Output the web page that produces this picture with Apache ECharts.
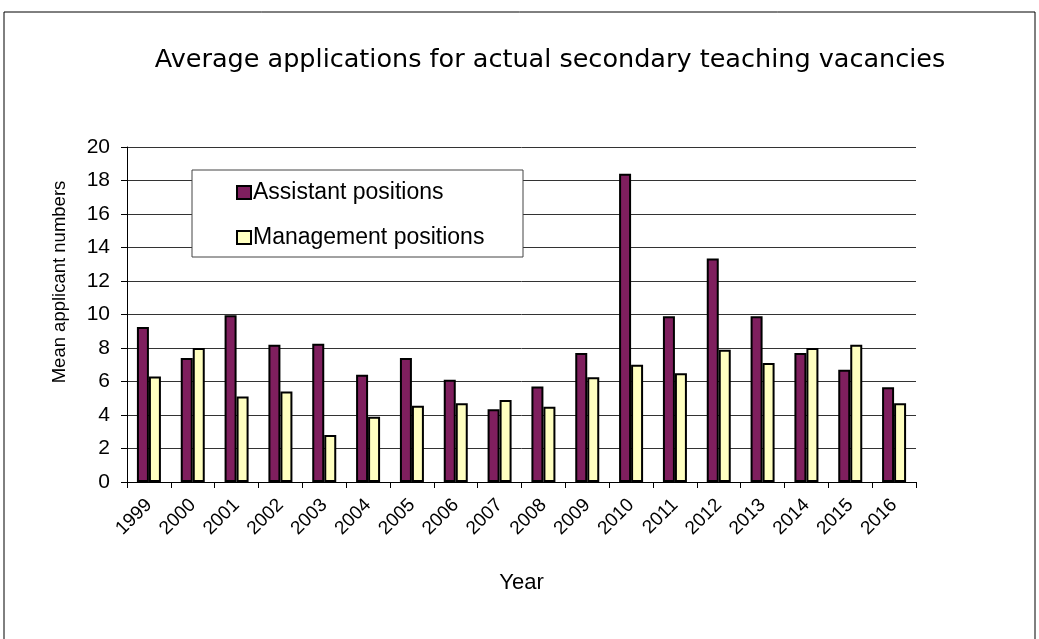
<!DOCTYPE html>
<html>
<head>
<meta charset="utf-8">
<script src="https://cdn.jsdelivr.net/npm/echarts@6/dist/echarts.min.js"></script>
<style>
html, body { margin: 0; padding: 0; background: #fff; }
#chart { width: 1039px; height: 639px; }
</style>
</head>
<body>
<div id="chart"></div>
<script>
const years = ['1999', '2000', '2001', '2002', '2003', '2004', '2005', '2006', '2007',
    '2008', '2009', '2010', '2011', '2012', '2013', '2014', '2015', '2016']
const assistant = [9.25, 7.4, 9.95, 8.2, 8.25, 6.4, 7.4, 6.1, 4.35,
    5.7, 7.7, 18.4, 9.9, 13.35, 9.9, 7.7, 6.7, 5.65]
const management = [6.3, 8.0, 5.1, 5.4, 2.8, 3.9, 4.55, 4.7, 4.9,
    4.5, 6.25, 7.0, 6.5, 7.9, 7.1, 8.0, 8.2, 4.7]
const seriesNames = ['Assistant positions', 'Management positions']

const font = 'Liberation Sans, Arial, sans-serif'
const chart = echarts.init(document.getElementById('chart'))

chart.setOption({
    backgroundColor: '#fff',
    animation: false,
    title: {
        text: 'Average applications for actual secondary teaching vacancies',
        left: 545,
        textAlign: 'center',
        top: 42,
        textStyle: { fontFamily: 'DejaVu Sans', fontSize: 25.5, fontWeight: 'normal', color: '#000' }
    },
    graphic: [
        {
            type: 'rect',
            shape: { x: 4, y: 12, width: 1031, height: 640 },
            style: { fill: 'none', stroke: '#000', lineWidth: 1 }
        },
        {
            type: 'rect',
            shape: { x: 192, y: 170, width: 331, height: 87 },
            style: { fill: '#fff', stroke: '#444', lineWidth: 1 },
            z: 5
        },
        {
            // y axis title, sits a bit above the plot middle in the original
            type: 'text',
            x: 60,
            y: 282,
            rotation: Math.PI / 2,
            style: {
                text: 'Mean applicant numbers',
                fontFamily: font,
                fontSize: 18.5,
                fill: '#000',
                align: 'center',
                verticalAlign: 'middle'
            }
        }
    ],
    legend: {
        left: 231,
        top: 176,
        orient: 'vertical',
        itemGap: 22,
        itemWidth: 14,
        itemHeight: 13,
        icon: 'rect',
        z: 6,
        data: seriesNames,
        textStyle: { fontFamily: font, fontSize: 23, color: '#000', padding: [0, 0, 0, -3] }
    },
    grid: { left: 127, right: 123, top: 147, bottom: 157 },
    xAxis: {
        type: 'category',
        data: years,
        name: 'Year',
        nameLocation: 'middle',
        nameGap: 90,
        nameTextStyle: { fontFamily: font, fontSize: 22, color: '#000' },
        axisLine: { lineStyle: { color: '#000', width: 1 } },
        axisTick: { show: true, length: 6, lineStyle: { color: '#000' } },
        axisLabel: { rotate: 45, interval: 0, fontFamily: font, fontSize: 19, color: '#000', margin: 20 }
    },
    yAxis: {
        type: 'value',
        min: 0,
        max: 20,
        interval: 2,
        axisLine: { show: true, lineStyle: { color: '#000' } },
        axisTick: { show: true, length: 6, lineStyle: { color: '#000' } },
        axisLabel: { fontFamily: font, fontSize: 21, color: '#000', margin: 17 },
        splitLine: { show: true, lineStyle: { color: '#333', width: 1 } }
    },
    series: [
        {
            name: seriesNames[0],
            type: 'bar',
            data: assistant,
            barWidth: 12,
            barGap: '0%',
            itemStyle: { color: '#7F1F5E', borderColor: '#000', borderWidth: 2 }
        },
        {
            name: seriesNames[1],
            type: 'bar',
            data: management,
            barWidth: 12,
            itemStyle: { color: '#FFFFC0', borderColor: '#000', borderWidth: 2 }
        }
    ]
})
</script>
</body>
</html>
